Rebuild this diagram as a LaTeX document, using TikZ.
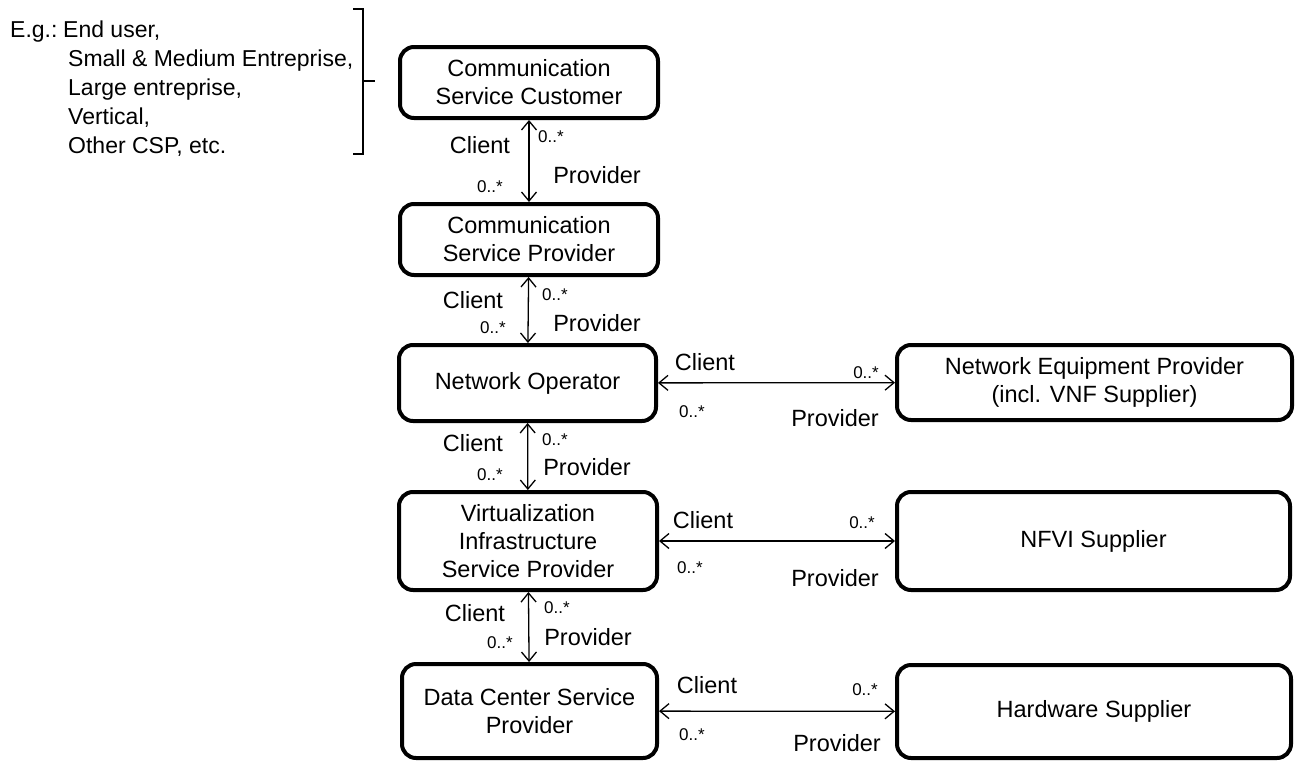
\documentclass[tikz,border=0pt]{standalone}
\usepackage{fontspec}
\setmainfont{Liberation Sans}
\usetikzlibrary{arrows.meta}
\tikzset{
  box/.style={draw, line width=4pt, rounded corners=14pt, inner sep=0pt, align=center,
    font=\fontsize{23.5}{28}\selectfont},
  lbl/.style={inner sep=0pt, font=\fontsize{23.5}{28}\selectfont},
  mult/.style={inner sep=0pt, font=\fontsize{17}{20}\selectfont},
  eg/.style={inner sep=0pt, anchor=base west, font=\fontsize{23}{28}\selectfont},
  arr/.style={line width=1.3pt, {Straight Barb[length=9pt,width=15pt]}-{Straight Barb[length=9pt,width=15pt]}},
}
\begin{document}
\begin{tikzpicture}[x=1pt,y=-1pt]
\useasboundingbox (0,0) rectangle (1296,763);
% boxes
\node[box, minimum width=258pt, minimum height=71pt] (csc) at (529,82.5) {Communication\\Service Customer};
\node[box, minimum width=258pt, minimum height=71pt] (csp) at (529,239.5) {Communication\\Service Provider};
\node[box, minimum width=257pt, minimum height=76pt] (no) at (527.5,383) {Network Operator};
\node[box, minimum width=258pt, minimum height=98pt] (visp) at (528,541) {Virtualization\\Infrastructure\\Service Provider};
\node[box, minimum width=255pt, minimum height=94pt] (dc) at (529.5,711) {Data Center Service\\Provider};
\node[box, minimum width=395pt, minimum height=75pt] (nep) at (1094.5,382.5) {Network Equipment Provider\\(incl. VNF Supplier)};
\node[box, minimum width=393pt, minimum height=98pt] (nfvi) at (1093.5,541) {NFVI Supplier};
\node[box, minimum width=394pt, minimum height=93pt] (hw) at (1094,711.5) {Hardware Supplier};
% connectors
\draw[arr] (csc) -- (csp);
\draw[arr] (csp) -- (no);
\draw[arr] (no) -- (visp);
\draw[arr] (visp) -- (dc);
\draw[arr] (no) -- (nep);
\draw[arr] (visp) -- (nfvi);
\draw[arr] (dc) -- (hw);
% labels: vertical links
\node[lbl] (c1) at (480,145) {Client};
\node[mult] (m1a) at (551,137) {0..*};
\node[lbl] (p1) at (597,175) {Provider};
\node[mult] (m1b) at (490,187) {0..*};
\node[lbl] (c2) at (473,300) {Client};
\node[mult] (m2a) at (555,295) {0..*};
\node[lbl] (p2) at (597,323) {Provider};
\node[mult] (m2b) at (493,328) {0..*};
\node[lbl] (c3) at (473,443) {Client};
\node[mult] (m3a) at (555,440) {0..*};
\node[lbl] (p3) at (587,467) {Provider};
\node[mult] (m3b) at (490,475) {0..*};
\node[lbl] (c4) at (475,613) {Client};
\node[mult] (m4a) at (557,608) {0..*};
\node[lbl] (p4) at (588,637) {Provider};
\node[mult] (m4b) at (500,643) {0..*};
% labels: horizontal links
\node[lbl] (c5) at (705,362) {Client};
\node[mult] (m5a) at (866,373) {0..*};
\node[mult] (m5b) at (692,412) {0..*};
\node[lbl] (p5) at (835,418) {Provider};
\node[lbl] (c6) at (703,520) {Client};
\node[mult] (m6a) at (862,523) {0..*};
\node[mult] (m6b) at (690,568) {0..*};
\node[lbl] (p6) at (835,578) {Provider};
\node[lbl] (c7) at (707,685) {Client};
\node[mult] (m7a) at (865,690) {0..*};
\node[mult] (m7b) at (692,735) {0..*};
\node[lbl] (p7) at (837,743) {Provider};
% examples text
\node[eg] (eg0) at (10,37) {E.g.:};
\node[eg] (eg1) at (63,37) {End user,};
\node[eg] (eg2) at (68,66) {Small \& Medium Entreprise,};
\node[eg] (eg3) at (68,95) {Large entreprise,};
\node[eg] (eg4) at (68,124) {Vertical,};
\node[eg] (eg5) at (68,153) {Other CSP, etc.};
% bracket
\coordinate (bt) at (363,9);
\coordinate (bb) at (363,154);
\draw[line width=1.5pt] ([xshift=-10pt]bt) -- (bt) -- (bb) -- ([xshift=-10pt]bb);
\draw[line width=1.5pt] (363,81) -- (375,81);
\end{tikzpicture}
\end{document}
